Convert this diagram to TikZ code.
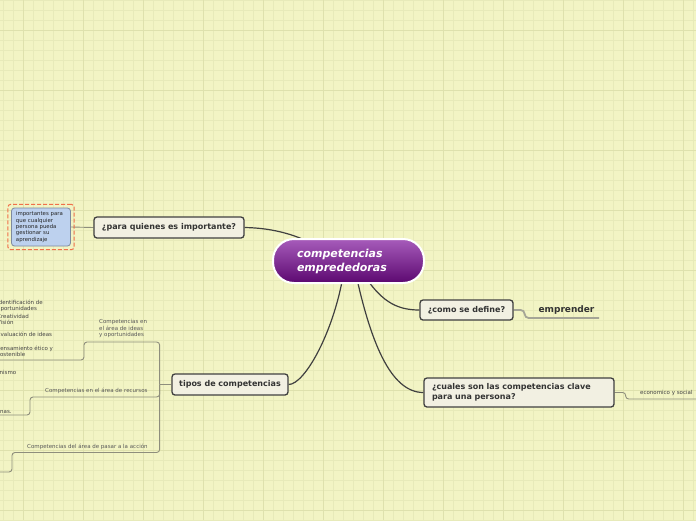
\documentclass[tikz,border=0pt]{standalone}
\usepackage{fontspec}
\setmainfont{DejaVu Sans}
\usepackage{xcolor}
\definecolor{mapbg}{HTML}{F2F4C4}
\definecolor{gridthin}{HTML}{E7EAB9}
\definecolor{gridthick}{HTML}{DEE1AD}
\definecolor{coretop}{HTML}{A75CBB}
\definecolor{coremid}{HTML}{8838A0}
\definecolor{corebot}{HTML}{5C0870}
\definecolor{topicfill}{HTML}{F2F0E2}
\definecolor{topicline}{HTML}{404040}
\definecolor{topictext}{HTML}{333333}
\definecolor{notefill}{HTML}{BDD1EE}
\definecolor{noteline}{HTML}{7E8A9E}
\definecolor{framered}{HTML}{F0704A}
\definecolor{twiggray}{HTML}{8E8E7C}
\definecolor{leaftext}{HTML}{444444}
\usetikzlibrary{positioning,fit,calc}
\pgfdeclarelayer{grid}
\pgfdeclarelayer{links}
\pgfsetlayers{grid,links,main}
\tikzset{
  core/.style  ={rectangle, rounded corners=21pt, draw=white, line width=2pt,
                 top color=coretop, middle color=coremid, bottom color=corebot,
                 minimum height=44pt, text width=103pt, inner xsep=24pt, align=left,
                 text=white, font=\bfseries\itshape\fontsize{11}{14}\selectfont},
  topic/.style ={rectangle, rounded corners=3pt, draw=topicline, line width=1.3pt,
                 fill=topicfill, text=topictext, inner sep=0pt, align=center,
                 font=\bfseries\fontsize{8}{10}\selectfont},
  note/.style  ={rectangle, rounded corners=3pt, draw=noteline, line width=0.8pt,
                 fill=notefill, text=black!85, align=left, inner xsep=4.5pt,
                 text width=50pt, minimum height=38pt,
                 font=\fontsize{5.4}{6.3}\selectfont},
  frame/.style ={rectangle, rounded corners=3pt, draw=framered, line width=1pt,
                 dash pattern=on 4pt off 2pt, inner sep=3.3pt},
  leaf/.style  ={inner sep=0pt, anchor=west, align=left, text=leaftext,
                 font=\fontsize{5.5}{6.4}\selectfont},
  sublabel/.style={leaf, text=black!65},
  link/.style  ={draw=topicline, line width=1.2pt},
  twig/.style  ={draw=twiggray, line width=0.9pt, rounded corners=3pt},
  underl/.style={draw=twiggray!80, line width=1.8pt, rounded corners=4pt},
}

\begin{document}
\begin{tikzpicture}[x=1pt,y=-1pt]
  \useasboundingbox (0,0) rectangle (696,520);
  \clip (0,0) rectangle (696,520);
  % paper grid
  \begin{pgfonlayer}{grid}
    \fill[mapbg] (0,0) rectangle (696,520);
    \foreach \gx in {3,13,...,693} \draw[gridthin, line width=0.7pt] (\gx,0) -- (\gx,520);
    \foreach \gy in {0,10,...,520} \draw[gridthin, line width=0.7pt] (0,\gy) -- (696,\gy);
    \foreach \gx in {23,83,...,683} \draw[gridthick, line width=0.9pt] (\gx,0) -- (\gx,520);
    \foreach \gy in {30,90,...,510} \draw[gridthick, line width=0.9pt] (0,\gy) -- (696,\gy);
  \end{pgfonlayer}

  % central topic and main topics
  \node[core] (core) at (348.5,261) {competencias\\emprededoras};
  \node[topic, minimum width=150pt, minimum height=21pt] (para) at (169,227.5) {¿para quienes es importante?};
  \node[topic, minimum width=93pt, minimum height=20pt] (como) at (466.5,310) {¿como se define?};
  \node[topic, minimum height=29pt, text width=174pt, inner xsep=8pt, align=left] (cuales) at (519,392.5)
       {¿cuales son las competencias clave\\para una persona?};
  \node[topic, minimum width=116pt, minimum height=21pt] (tipos) at (230,384.5) {tipos de competencias};

  % subtopics
  \node[note] (note) at (41,227) {importantes para\\que cualquier\\persona pueda\\gestionar su\\aprendizaje};
  \node[frame, fit=(note)] (noteframe) {};
  \node[inner sep=0pt, text=topictext, font=\bfseries\fontsize{9}{11}\selectfont] (empr) at (566.5,310.5) {emprender};
  \node[leaf] (econ) at (640,393) {economico y social};

  \node[sublabel] (ideas) at (99,328.7) {Competencias en\\el área de ideas\\y oportunidades};
  \node[sublabel] (recursos) at (45,391) {Competencias en el área de recursos};
  \node[sublabel] (accion) at (27,447.3) {Competencias del área de pasar a la acción};

  \node[leaf] (identif) at (-3,305.8) {Identificación de\\oportunidades};
  \node[leaf] (creat) at (-3,316) {Creatividad};
  \node[leaf] (vision) at (-3,322) {Visión};
  \node[leaf] (evalua) at (-3,334.5) {Evaluación de ideas};
  \node[leaf] (etico) at (-3,351.5) {Pensamiento ético y\\sostenible};
  \node[leaf] (nismo) at (-0.5,372) {nismo};
  \node[leaf] (nas) at (0,412) {nas.};

  \coordinate (corepara) at (318,247);
  \coordinate (corecomo) at (362,272);
  \coordinate (corecuales) at (355,270);
  \coordinate (coretipos) at (344,270);
  \coordinate (emprtail) at (599,318);
  \coordinate (econtail) at (696,399);
  \coordinate (ideastail) at (0,360);
  \coordinate (recurtail) at (0,415);
  \coordinate (acciontail) at (0,472);

  \begin{pgfonlayer}{links}
    \draw[link] (para.east) .. controls (275,228) and (300,236) .. (corepara);
    \draw[link] (corecomo) .. controls (380,300) and (395,310) .. (como.west);
    \draw[link] (corecuales) .. controls (370,340) and (390,392.5) .. (cuales.west);
    \draw[link] (coretipos) .. controls (335,330) and (305,384.5) .. (tipos.east);
    \draw[twiggray, line width=0.9pt] (note.east) -- (para.west);
    \draw[underl] (como.east) -- ++(11,0) |- (emprtail);
    \draw[twig] (cuales.east) -- ++(11,0) |- (econtail);
    \draw[twig] (tipos.west) -- ++(-11.7,0) coordinate (hub);
    \draw[twig] (hub) |- (84,342) |- (ideastail);
    \draw[twig] (hub) |- (30,397) |- (recurtail);
    \draw[twig] (hub) |- (12,452.5) |- (acciontail);
  \end{pgfonlayer}
\end{tikzpicture}
\end{document}
